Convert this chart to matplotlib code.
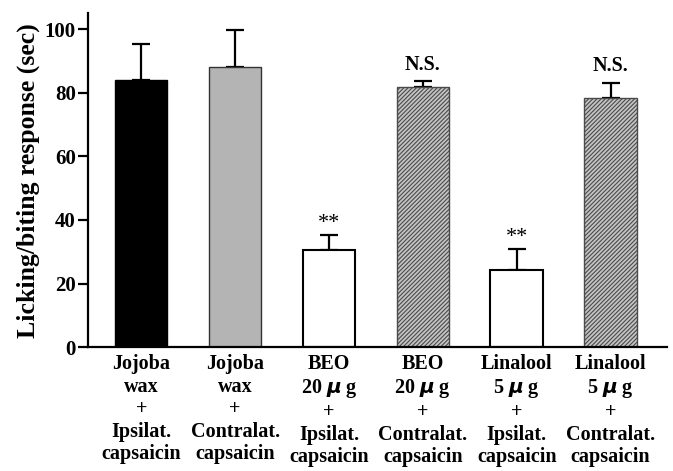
import numpy as np
import matplotlib.pyplot as plt

plt.rcParams['font.family'] = ['Liberation Serif', 'DejaVu Serif']
plt.rcParams['font.weight'] = 'bold'
plt.rcParams['axes.labelweight'] = 'bold'
plt.rcParams['hatch.linewidth'] = 0.8

# data
categories = ['Jojoba\nwax\n+\nIpsilat.\ncapsaicin',
              'Jojoba\nwax\n+\nContralat.\ncapsaicin',
              'BEO\n20 $\\mu$ g\n+\nIpsilat.\ncapsaicin',
              'BEO\n20 $\\mu$ g\n+\nContralat.\ncapsaicin',
              'Linalool\n5 $\\mu$ g\n+\nIpsilat.\ncapsaicin',
              'Linalool\n5 $\\mu$ g\n+\nContralat.\ncapsaicin']
means = [84.0, 88.2, 30.5, 81.8, 24.2, 78.3]
sems = [11.3, 11.4, 4.7, 1.8, 6.6, 4.9]
marks = ['', '', '**', 'N.S.', '**', 'N.S.']

facecolors = ['black', '#b4b4b4', 'white', '#c4c4c4', 'white', '#c4c4c4']
hatches = [None, None, None, '////////', None, '////////']
edgecolors = ['black', '#333333', 'black', '#4a4a4a', 'black', '#4a4a4a']

fig = plt.figure(figsize=(6.73, 4.71), dpi=100)
ax = fig.add_axes([0.131, 0.263, 0.86, 0.709])

x = np.arange(len(means))
for i in range(len(means)):
    ax.bar(x[i], means[i], width=0.56, color=facecolors[i], edgecolor=edgecolors[i],
           hatch=hatches[i], linewidth=1.5 if facecolors[i] == 'white' else 1.0, zorder=2)
    ax.errorbar(x[i], means[i], yerr=[[0], [sems[i]]], fmt='none', ecolor='black',
                elinewidth=1.6, capsize=6.5, capthick=1.6, zorder=1)
    if marks[i] == '**':
        ax.text(x[i], means[i] + sems[i] + 0.8, '**', ha='center', va='bottom',
                fontsize=16, fontweight='normal')
    elif marks[i]:
        ax.text(x[i], means[i] + sems[i] + 2.0, marks[i], ha='center', va='bottom',
                fontsize=14.5)

ax.set_xlim(-0.565, 5.6)
ax.set_ylim(0, 105)
ax.set_yticks([0, 20, 40, 60, 80, 100])
ax.set_xticks(x)
ax.set_xticklabels(categories, fontsize=14.5, linespacing=1.17)
ax.tick_params(axis='x', length=0, pad=5)
ax.tick_params(axis='y', length=7, width=1.6, labelsize=15, pad=2)
for s in ['top', 'right']:
    ax.spines[s].set_visible(False)
for s in ['left', 'bottom']:
    ax.spines[s].set_linewidth(1.6)
ax.set_ylabel('Licking/biting response (sec)', fontsize=18.5)
ax.yaxis.set_label_coords(-0.083, 0.5)

fig.savefig('out.png', dpi=100)
